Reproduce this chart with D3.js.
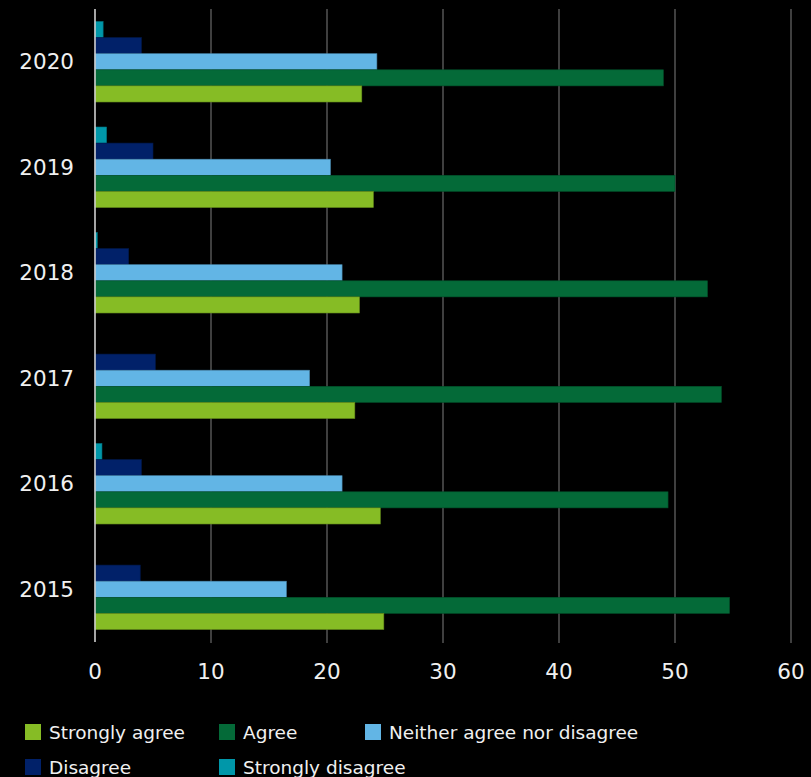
<!DOCTYPE html>
<html lang="en">
<head>
<meta charset="utf-8">
<title>Survey responses by year</title>
<script src="https://cdn.jsdelivr.net/npm/d3@7"></script>
<style>
  html, body { margin: 0; padding: 0; background: #000; }
  svg { display: block; font-family: "DejaVu Sans", Verdana, sans-serif; }
  .grid line { stroke: #555; stroke-width: 1.5px; }
  .label { fill: #f0f0f0; }
</style>
</head>
<body>
<div id="chart"></div>
<script>
// data (percent)
var years = ["2020", "2019", "2018", "2017", "2016", "2015"];
var series = ["Strongly disagree", "Disagree", "Neither agree nor disagree", "Agree", "Strongly agree"];
var stronglyDisagree = [0.7, 1.0, 0.2, 0, 0.6, 0];
var disagree         = [4.0, 5.0, 2.9, 5.2, 4.0, 3.9];
var neither          = [24.3, 20.3, 21.3, 18.5, 21.3, 16.5];
var agree            = [49.0, 50.0, 52.8, 54.0, 49.4, 54.7];
var stronglyAgree    = [23.0, 24.0, 22.8, 22.4, 24.6, 24.9];
var xTicks = [0, 10, 20, 30, 40, 50, 60];
var legendOrder = ["Strongly agree", "Agree", "Neither agree nor disagree", "Disagree", "Strongly disagree"];

var colors = {
  "Strongly agree": "#86bc25",
  "Agree": "#046a38",
  "Neither agree nor disagree": "#62b5e5",
  "Disagree": "#012169",
  "Strongly disagree": "#0097a9"
};
var valuesBySeries = {
  "Strongly disagree": stronglyDisagree,
  "Disagree": disagree,
  "Neither agree nor disagree": neither,
  "Agree": agree,
  "Strongly agree": stronglyAgree
};

var width = 811, height = 777;
var plot = { left: 95, right: 791, top: 9, bottom: 642 };

var svg = d3.select("#chart").append("svg")
    .attr("width", width)
    .attr("height", height);

var x = d3.scaleLinear().domain([0, 60]).range([plot.left, plot.right]);
var y = d3.scaleBand().domain(years).range([plot.top, plot.bottom])
    .paddingInner(0.237).paddingOuter(0.1185);
var ySub = d3.scaleBand().domain(series).range([0, y.bandwidth()]);

// vertical grid
svg.append("g").attr("class", "grid")
  .selectAll("line")
  .data(xTicks.filter(function(d) { return d > 0; }))
  .enter().append("line")
    .attr("x1", function(d) { return x(d); })
    .attr("x2", function(d) { return x(d); })
    .attr("y1", plot.top)
    .attr("y2", plot.bottom + 1);

// bars
var rows = [];
years.forEach(function(yr, i) {
  series.forEach(function(s) {
    rows.push({ year: yr, series: s, value: valuesBySeries[s][i] });
  });
});

svg.append("g")
  .selectAll("rect")
  .data(rows.filter(function(d) { return d.value > 0; }))
  .enter().append("rect")
    .attr("x", x(0))
    .attr("y", function(d) { return y(d.year) + ySub(d.series); })
    .attr("width", function(d) { return x(d.value) - x(0); })
    .attr("height", ySub.bandwidth())
    .attr("fill", function(d) { return colors[d.series]; })
    .attr("stroke", function(d) { return d3.color(colors[d.series]).darker(0.8); })
    .attr("stroke-width", 0.6);

// y axis line
svg.append("line")
    .attr("x1", x(0)).attr("x2", x(0))
    .attr("y1", plot.top).attr("y2", plot.bottom)
    .attr("stroke", "#d0d0d0")
    .attr("stroke-width", 1.6);

// year labels
svg.append("g")
  .selectAll("text")
  .data(years)
  .enter().append("text")
    .attr("class", "label")
    .attr("x", 74)
    .attr("y", function(d) { return y(d) + y.bandwidth() / 2; })
    .attr("dy", "0.36em")
    .attr("text-anchor", "end")
    .style("font-size", "21.5px")
    .text(function(d) { return d; });

// x tick labels
svg.append("g")
  .selectAll("text")
  .data(xTicks)
  .enter().append("text")
    .attr("class", "label")
    .attr("x", function(d) { return x(d); })
    .attr("y", 671)
    .attr("dy", "0.36em")
    .attr("text-anchor", "middle")
    .style("font-size", "21.5px")
    .text(function(d) { return d; });

// legend
var legendX = [25, 219, 365];
var legendY = [724, 759];
var legend = svg.append("g")
  .selectAll("g")
  .data(legendOrder)
  .enter().append("g")
    .attr("transform", function(d, i) {
      return "translate(" + legendX[i % 3] + "," + legendY[Math.floor(i / 3)] + ")";
    });

legend.append("rect")
    .attr("width", 16)
    .attr("height", 16)
    .attr("fill", function(d) { return colors[d]; });

legend.append("text")
    .attr("class", "label")
    .attr("x", 24)
    .attr("y", 8)
    .attr("dy", "0.36em")
    .style("font-size", "18.5px")
    .text(function(d) { return d; });
</script>
</body>
</html>
